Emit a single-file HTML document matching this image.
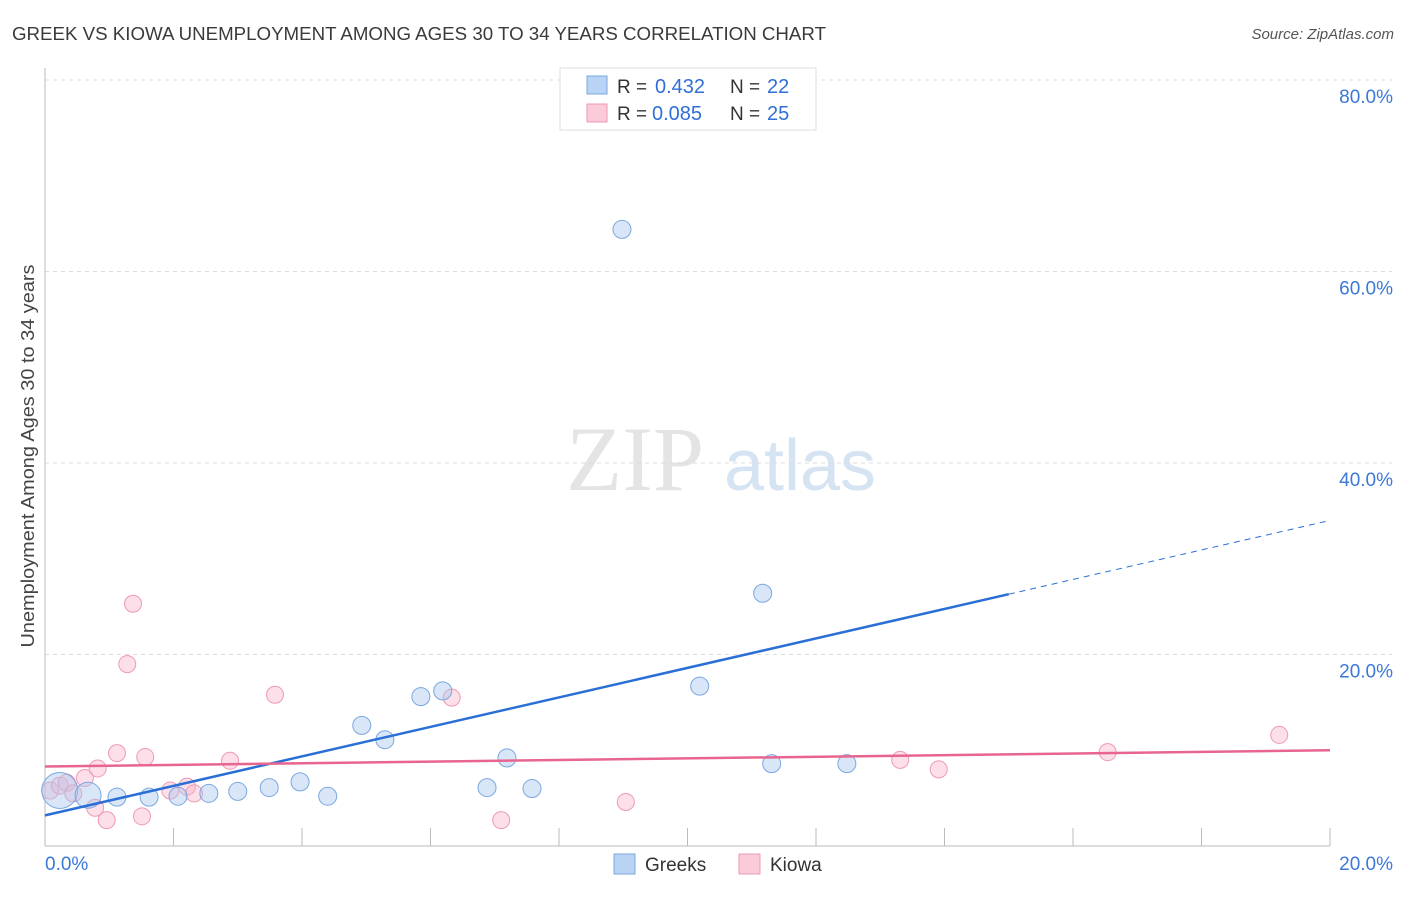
<!DOCTYPE html>
<html><head><meta charset="utf-8"><style>
body{margin:0;background:#fff;font-family:"Liberation Sans",sans-serif}
</style></head><body>
<svg id="c" width="1406" height="892" xmlns="http://www.w3.org/2000/svg">
<text x="12" y="40" font-size="18" fill="#3a3a3a" textLength="814" lengthAdjust="spacingAndGlyphs">GREEK VS KIOWA UNEMPLOYMENT AMONG AGES 30 TO 34 YEARS CORRELATION CHART</text>
<text x="1394" y="39" font-size="15" fill="#555" font-style="italic" text-anchor="end">Source: ZipAtlas.com</text>
<text x="34" y="456" font-size="18" fill="#444" text-anchor="middle" textLength="383" lengthAdjust="spacingAndGlyphs" transform="rotate(-90 34 456)">Unemployment Among Ages 30 to 34 years</text>
<g><text x="635" y="490" font-size="92" fill="#e4e4e4" font-family="Liberation Serif,serif" text-anchor="middle">ZIP</text><text x="800" y="490" font-size="72" fill="#d6e3f3" text-anchor="middle">atlas</text></g>
<g id="grid"></g><g id="axes"></g><g id="marks"></g>
<g>
<rect x="560" y="68" width="256" height="62" fill="#fff" stroke="#ddd"/>
<rect x="587" y="76" width="20" height="18" fill="#b9d3f5" stroke="#7aa7e0"/>
<rect x="587" y="104" width="20" height="18" fill="#fbcbd9" stroke="#ee9ab3"/>
<text x="617" y="93" font-size="19" fill="#333">R =</text><text x="655" y="93" font-size="20" fill="#2f6fd6">0.432</text>
<text x="730" y="93" font-size="19" fill="#333">N =</text><text x="767" y="93" font-size="20" fill="#2f6fd6">22</text>
<text x="617" y="120" font-size="19" fill="#333">R =</text><text x="652" y="120" font-size="20" fill="#2f6fd6">0.085</text>
<text x="730" y="120" font-size="19" fill="#333">N =</text><text x="767" y="120" font-size="20" fill="#2f6fd6">25</text>
</g>
<g>
<rect x="614" y="854" width="21" height="20" fill="#b9d3f5" stroke="#7aa7e0"/><text x="645" y="871" font-size="19" fill="#333">Greeks</text>
<rect x="739" y="854" width="21" height="20" fill="#fbcbd9" stroke="#ee9ab3"/><text x="770" y="871" font-size="19" fill="#333">Kiowa</text>
</g>
</svg>
<script>
const greekX=[0.23,0.67,1.12,1.62,2.07,2.55,3.0,3.49,3.97,4.40,4.93,5.29,5.85,6.19,6.88,7.19,7.58,8.98,10.19,11.17,11.31,12.48];
const greekY=[5.8,5.3,5.1,5.1,5.2,5.5,5.7,6.1,6.7,5.2,12.6,11.1,15.6,16.2,6.1,9.2,6.0,64.4,16.7,26.4,8.6,8.6];
const greekR=[18,13,9,9,9,9,9,9,9,9,9,9,9,9,9,9,9,9,9,9,9,9];
const kiowaX=[0.08,0.23,0.34,0.44,0.62,0.78,0.82,0.96,1.12,1.28,1.37,1.51,1.56,1.95,2.21,2.32,2.88,3.58,6.33,7.10,9.04,13.31,13.91,16.54,19.21];
const kiowaY=[5.8,6.3,6.6,5.5,7.1,4.0,8.1,2.7,9.7,19.0,25.3,3.1,9.3,5.8,6.2,5.5,8.9,15.8,15.5,2.7,4.6,9.0,8.0,9.8,11.6];
const greekLine=[3.2,1.54]; // intercept, slope
const kiowaLine=[8.3,0.085];
const yTicks=[20,40,60,80];
const yTickLabels=["20.0%","40.0%","60.0%","80.0%"];
const xEdgeLabels=["0.0%","20.0%"];
const NS="http://www.w3.org/2000/svg";
const sx=v=>45+v/20*1285, sy=v=>846-v/20*191.5;
function mk(p,t,a){const e=document.createElementNS(NS,t);for(const k in a)e.setAttribute(k,a[k]);document.getElementById(p).appendChild(e);return e;}
yTicks.forEach((t,i)=>{
 const g=mk('grid','line',{x1:45,x2:1392,y1:sy(t),y2:sy(t),stroke:'#ddd','stroke-dasharray':'4 4'});
 
 
 const l=mk('grid','text',{x:1393,y:sy(t)+23,'font-size':19,fill:'#3b78d8','text-anchor':'end'});l.textContent=yTickLabels[i];
 
 
});
let ax=mk('axes','line',{x1:45,x2:45,y1:68,y2:846,stroke:'#bbb'});


ax=mk('axes','line',{x1:45,x2:1330,y1:846,y2:846,stroke:'#bbb'});


for(let i=1;i<=10;i++){const t=mk('axes','line',{x1:sx(i*2),x2:sx(i*2),y1:828,y2:846,stroke:'#bbb'});
 
 }
[[0,'start',45],[20,'end',1393]].forEach((d,i)=>{const l=mk('axes','text',{x:d[2],y:870,'font-size':19,fill:'#3b78d8','text-anchor':d[1]});l.textContent=xEdgeLabels[i];
 
 });
kiowaX.forEach((x,i)=>{const c=mk('marks','circle',{cx:sx(x),cy:sy(kiowaY[i]),r:8.5,fill:'rgba(248,183,203,0.45)',stroke:'#ee9ab3','stroke-width':1});
 
 });
greekX.forEach((x,i)=>{const c=mk('marks','circle',{cx:sx(x),cy:sy(greekY[i]),r:greekR[i],fill:'rgba(170,200,240,0.45)',stroke:'#7aa7e0','stroke-width':1});
 
 });
const gl=x=>greekLine[0]+greekLine[1]*x, kl=x=>kiowaLine[0]+kiowaLine[1]*x;
let ln=mk('marks','line',{x1:sx(0),y1:sy(gl(0)),x2:sx(15),y2:sy(gl(15)),stroke:'#2a6fd6','stroke-width':2.5});


ln=mk('marks','line',{x1:sx(15),y1:sy(gl(15)),x2:sx(20),y2:sy(gl(20)),stroke:'#2a6fd6','stroke-width':1,'stroke-dasharray':'6 5'});


ln=mk('marks','line',{x1:sx(0),y1:sy(kl(0)),x2:sx(20),y2:sy(kl(20)),stroke:'#e8658f','stroke-width':2.5});


</script>
</body></html>
